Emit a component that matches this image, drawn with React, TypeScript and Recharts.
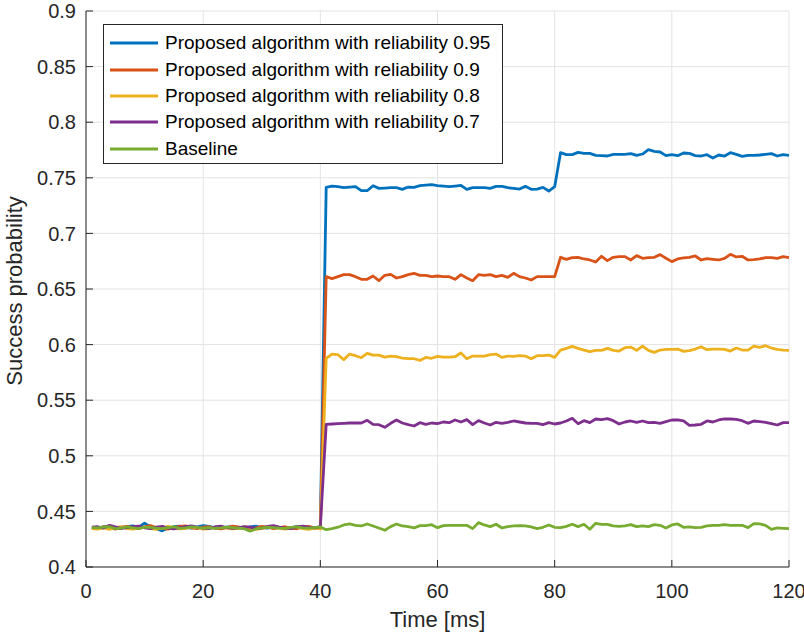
import React from 'react';
import { LineChart, Line, XAxis, YAxis, CartesianGrid, Legend, Label } from 'recharts';

const time: number[] = Array.from({ length: 120 }, (_, i) => i + 1);

const rel95: number[] = [
  0.4355, 0.4352, 0.4360, 0.4365, 0.4350, 0.4348, 0.4362, 0.4370, 0.4358, 0.4395,
  0.4360, 0.4345, 0.4325, 0.4350, 0.4362, 0.4368, 0.4355, 0.4350, 0.4360, 0.4372,
  0.4365, 0.4352, 0.4345, 0.4358, 0.4362, 0.4355, 0.4348, 0.4360, 0.4368, 0.4355,
  0.4350, 0.4362, 0.4357, 0.4345, 0.4352, 0.4365, 0.4360, 0.4348, 0.4350, 0.4358,
  0.7414, 0.7426, 0.7420, 0.7411, 0.7417, 0.7420, 0.7384, 0.7384, 0.7429, 0.7405,
  0.7408, 0.7411, 0.7411, 0.7396, 0.7417, 0.7414, 0.7429, 0.7435, 0.7438, 0.7429,
  0.7426, 0.7420, 0.7426, 0.7432, 0.7396, 0.7411, 0.7411, 0.7411, 0.7405, 0.7423,
  0.7423, 0.7411, 0.7405, 0.7399, 0.7423, 0.7396, 0.7399, 0.7414, 0.7381, 0.7420,
  0.7726, 0.7708, 0.7708, 0.7729, 0.7720, 0.7720, 0.7702, 0.7699, 0.7696, 0.7711,
  0.7711, 0.7711, 0.7717, 0.7702, 0.7714, 0.7753, 0.7738, 0.7732, 0.7699, 0.7708,
  0.7699, 0.7723, 0.7720, 0.7699, 0.7696, 0.7708, 0.7678, 0.7705, 0.7696, 0.7726,
  0.7711, 0.7693, 0.7702, 0.7702, 0.7705, 0.7711, 0.7717, 0.7696, 0.7708, 0.7702,
];

const rel90: number[] = [
  0.4350, 0.4345, 0.4362, 0.4355, 0.4340, 0.4358, 0.4366, 0.4352, 0.4345, 0.4360,
  0.4372, 0.4355, 0.4348, 0.4340, 0.4355, 0.4365, 0.4370, 0.4352, 0.4345, 0.4358,
  0.4362, 0.4350, 0.4342, 0.4355, 0.4368, 0.4360, 0.4348, 0.4340, 0.4352, 0.4365,
  0.4358, 0.4346, 0.4355, 0.4362, 0.4350, 0.4344, 0.4358, 0.4365, 0.4352, 0.4348,
  0.6611, 0.6593, 0.6611, 0.6629, 0.6629, 0.6611, 0.6587, 0.6587, 0.6617, 0.6575,
  0.6623, 0.6632, 0.6599, 0.6611, 0.6629, 0.6641, 0.6623, 0.6623, 0.6611, 0.6617,
  0.6611, 0.6611, 0.6587, 0.6629, 0.6599, 0.6575, 0.6629, 0.6623, 0.6629, 0.6611,
  0.6623, 0.6605, 0.6641, 0.6611, 0.6599, 0.6581, 0.6611, 0.6611, 0.6611, 0.6611,
  0.6785, 0.6767, 0.6782, 0.6785, 0.6770, 0.6761, 0.6743, 0.6794, 0.6755, 0.6785,
  0.6791, 0.6791, 0.6761, 0.6800, 0.6776, 0.6782, 0.6785, 0.6809, 0.6776, 0.6746,
  0.6770, 0.6779, 0.6785, 0.6797, 0.6761, 0.6773, 0.6767, 0.6761, 0.6776, 0.6812,
  0.6788, 0.6794, 0.6761, 0.6764, 0.6770, 0.6782, 0.6782, 0.6776, 0.6791, 0.6782,
];

const rel80: number[] = [
  0.4345, 0.4340, 0.4352, 0.4338, 0.4355, 0.4362, 0.4345, 0.4340, 0.4350, 0.4358,
  0.4345, 0.4338, 0.4352, 0.4365, 0.4350, 0.4342, 0.4348, 0.4360, 0.4355, 0.4340,
  0.4345, 0.4358, 0.4366, 0.4350, 0.4342, 0.4348, 0.4360, 0.4352, 0.4338, 0.4345,
  0.4358, 0.4362, 0.4348, 0.4340, 0.4352, 0.4360, 0.4345, 0.4338, 0.4350, 0.4342,
  0.5877, 0.5915, 0.5909, 0.5865, 0.5915, 0.5900, 0.5882, 0.5921, 0.5906, 0.5906,
  0.5888, 0.5897, 0.5891, 0.5879, 0.5873, 0.5873, 0.5858, 0.5885, 0.5877, 0.5894,
  0.5888, 0.5888, 0.5891, 0.5924, 0.5873, 0.5897, 0.5897, 0.5897, 0.5909, 0.5915,
  0.5885, 0.5897, 0.5894, 0.5900, 0.5897, 0.5873, 0.5900, 0.5900, 0.5906, 0.5885,
  0.5951, 0.5966, 0.5984, 0.5966, 0.5951, 0.5936, 0.5948, 0.5948, 0.5966, 0.5948,
  0.5942, 0.5972, 0.5978, 0.5948, 0.5987, 0.5948, 0.5930, 0.5951, 0.5957, 0.5957,
  0.5960, 0.5939, 0.5945, 0.5960, 0.5981, 0.5954, 0.5960, 0.5960, 0.5957, 0.5942,
  0.5969, 0.5951, 0.5951, 0.5987, 0.5975, 0.5990, 0.5969, 0.5957, 0.5951, 0.5948,
];

const rel70: number[] = [
  0.4358, 0.4362, 0.4350, 0.4375, 0.4360, 0.4348, 0.4355, 0.4362, 0.4368, 0.4352,
  0.4345, 0.4358, 0.4365, 0.4350, 0.4342, 0.4355, 0.4362, 0.4370, 0.4358, 0.4350,
  0.4345, 0.4360, 0.4368, 0.4355, 0.4348, 0.4352, 0.4362, 0.4358, 0.4345, 0.4350,
  0.4365, 0.4372, 0.4358, 0.4350, 0.4345, 0.4360, 0.4368, 0.4358, 0.4352, 0.4362,
  0.5283, 0.5286, 0.5289, 0.5292, 0.5295, 0.5295, 0.5295, 0.5319, 0.5283, 0.5280,
  0.5256, 0.5292, 0.5322, 0.5295, 0.5280, 0.5268, 0.5298, 0.5283, 0.5295, 0.5289,
  0.5304, 0.5298, 0.5322, 0.5304, 0.5325, 0.5280, 0.5316, 0.5295, 0.5277, 0.5301,
  0.5292, 0.5301, 0.5313, 0.5304, 0.5295, 0.5292, 0.5292, 0.5280, 0.5298, 0.5286,
  0.5295, 0.5313, 0.5337, 0.5289, 0.5316, 0.5298, 0.5331, 0.5325, 0.5334, 0.5316,
  0.5286, 0.5304, 0.5313, 0.5301, 0.5313, 0.5298, 0.5301, 0.5292, 0.5307, 0.5322,
  0.5322, 0.5313, 0.5274, 0.5277, 0.5283, 0.5313, 0.5304, 0.5322, 0.5331, 0.5331,
  0.5328, 0.5316, 0.5292, 0.5313, 0.5307, 0.5301, 0.5289, 0.5277, 0.5298, 0.5298,
];

const baseline: number[] = [
  0.4355, 0.4352, 0.4358, 0.4362, 0.4345, 0.4350, 0.4360, 0.4352, 0.4345, 0.4358,
  0.4356, 0.4350, 0.4346, 0.4355, 0.4362, 0.4348, 0.4352, 0.4360, 0.4356, 0.4350,
  0.4355, 0.4348, 0.4352, 0.4358, 0.4354, 0.4350, 0.4345, 0.4322, 0.4342, 0.4352,
  0.4358, 0.4355, 0.4350, 0.4348, 0.4356, 0.4360, 0.4352, 0.4350, 0.4355, 0.4360,
  0.4335, 0.4345, 0.4358, 0.4378, 0.4387, 0.4375, 0.4369, 0.4387, 0.4369, 0.4351,
  0.4330, 0.4363, 0.4387, 0.4369, 0.4363, 0.4351, 0.4372, 0.4372, 0.4381, 0.4354,
  0.4372, 0.4375, 0.4375, 0.4375, 0.4375, 0.4345, 0.4399, 0.4378, 0.4363, 0.4384,
  0.4351, 0.4363, 0.4369, 0.4372, 0.4369, 0.4360, 0.4345, 0.4357, 0.4378, 0.4357,
  0.4354, 0.4366, 0.4384, 0.4363, 0.4384, 0.4339, 0.4393, 0.4384, 0.4384, 0.4369,
  0.4366, 0.4369, 0.4381, 0.4363, 0.4369, 0.4363, 0.4381, 0.4375, 0.4351, 0.4378,
  0.4387, 0.4357, 0.4360, 0.4354, 0.4357, 0.4369, 0.4375, 0.4375, 0.4381, 0.4375,
  0.4375, 0.4375, 0.4354, 0.4390, 0.4387, 0.4375, 0.4339, 0.4351, 0.4348, 0.4345,
];

const xTicks: number[] = [0, 20, 40, 60, 80, 100, 120];
const yTicks: number[] = [0.4, 0.45, 0.5, 0.55, 0.6, 0.65, 0.7, 0.75, 0.8, 0.85, 0.9];

const seriesNames: string[] = [
  'Proposed algorithm with reliability 0.95',
  'Proposed algorithm with reliability 0.9',
  'Proposed algorithm with reliability 0.8',
  'Proposed algorithm with reliability 0.7',
  'Baseline',
];
const seriesColors: string[] = ['#0072BD', '#D95319', '#EDB120', '#7E2F8E', '#77AC30'];
const seriesKeys: string[] = ['r95', 'r90', 'r80', 'r70', 'base'];
const seriesData: number[][] = [rel95, rel90, rel80, rel70, baseline];

const rows = time.map((t, i) => {
  const row: Record<string, number> = { t };
  seriesKeys.forEach((k, j) => {
    row[k] = seriesData[j][i];
  });
  return row;
});

const FONT = '"Liberation Sans", Arial, Helvetica, sans-serif';
const AXIS = '#262626';
const TICK_LEN = 7;

const fmtY = (v: number) => String(Math.round(v * 100) / 100);

const LeftTick = (props: any) => {
  const { x, y, payload } = props;
  const ax = x + 10;
  return (
    <g>
      <line x1={ax} x2={ax + TICK_LEN} y1={y} y2={y} stroke={AXIS} strokeWidth={1} />
      <text x={x} y={y} dy="0.36em" textAnchor="end" fontFamily={FONT} fontSize={20} fill={AXIS}>
        {fmtY(payload.value)}
      </text>
    </g>
  );
};

const RightTick = (props: any) => {
  const { x, y } = props;
  return <line x1={x - TICK_LEN} x2={x} y1={y} y2={y} stroke={AXIS} strokeWidth={1} />;
};

const BottomTick = (props: any) => {
  const { x, y, payload } = props;
  const ay = y - 17;
  return (
    <g>
      <line x1={x} x2={x} y1={ay} y2={ay - TICK_LEN} stroke={AXIS} strokeWidth={1} />
      <text x={x} y={y} dy="0.72em" textAnchor="middle" fontFamily={FONT} fontSize={20} fill={AXIS}>
        {payload.value}
      </text>
    </g>
  );
};

const TopTick = (props: any) => {
  const { x, y } = props;
  return <line x1={x} x2={x} y1={y} y2={y + TICK_LEN} stroke={AXIS} strokeWidth={1} />;
};

const LegendBox = (props: any) => {
  const items = [...(props.payload || [])].sort(
    (a: any, b: any) => seriesNames.indexOf(a.value) - seriesNames.indexOf(b.value)
  );
  return (
    <div
      style={{
        width: 400,
        height: 140,
        boxSizing: 'border-box',
        border: `1px solid ${AXIS}`,
        background: '#fff',
        paddingTop: 5,
        paddingLeft: 6,
        fontFamily: FONT,
        fontSize: 19,
        color: '#000',
      }}
    >
      {items.map((p: any, i: number) => (
        <div key={i} style={{ display: 'flex', alignItems: 'center', height: 26.4, whiteSpace: 'nowrap' }}>
          <svg width={48} height={6} style={{ display: 'block' }}>
            <line x1={0} x2={48} y1={3} y2={3} stroke={p.color} strokeWidth={2.8} />
          </svg>
          <span style={{ marginLeft: 7, lineHeight: '26px' }}>{p.value}</span>
        </div>
      ))}
    </div>
  );
};

export default function App() {
  return (
    <div style={{ position: 'absolute', left: 0, top: 0, background: '#fff' }}>
      <LineChart width={804} height={635} data={rows} margin={{ top: 11, right: 15, bottom: 38, left: 26 }}>
        <CartesianGrid stroke="#e3e3e3" strokeWidth={1} />
        <XAxis
          dataKey="t"
          type="number"
          domain={[0, 120]}
          ticks={xTicks}
          height={30}
          tickSize={0}
          tickMargin={17}
          axisLine={{ stroke: AXIS, strokeWidth: 1 }}
          tickLine={false}
          tick={<BottomTick />}
          interval={0}
        >
          <Label
            content={(p: any) => {
              const vb = p.viewBox || {};
              return (
                <text x={vb.x + vb.width / 2} y={vb.y + 60} textAnchor="middle" fontFamily={FONT} fontSize={22} fill={AXIS}>
                  Time [ms]
                </text>
              );
            }}
          />
        </XAxis>
        <XAxis
          xAxisId="top"
          orientation="top"
          dataKey="t"
          type="number"
          domain={[0, 120]}
          ticks={xTicks}
          height={0}
          tickSize={0}
          tickMargin={0}
          axisLine={{ stroke: AXIS, strokeWidth: 1 }}
          tickLine={false}
          tick={<TopTick />}
          interval={0}
        />
        <YAxis
          type="number"
          domain={[0.4, 0.9]}
          ticks={yTicks}
          width={60}
          tickSize={0}
          tickMargin={10}
          axisLine={{ stroke: AXIS, strokeWidth: 1 }}
          tickLine={false}
          tick={<LeftTick />}
          interval={0}
          allowDataOverflow
        >
          <Label
            content={(p: any) => {
              const vb = p.viewBox || {};
              const cx = vb.x - 4;
              const cy = vb.y + vb.height / 2 + 2;
              return (
                <text
                  x={cx}
                  y={cy}
                  transform={`rotate(-90, ${cx}, ${cy})`}
                  textAnchor="middle"
                  fontFamily={FONT}
                  fontSize={22}
                  fill={AXIS}
                >
                  Success probability
                </text>
              );
            }}
          />
        </YAxis>
        <YAxis
          yAxisId="right"
          orientation="right"
          type="number"
          domain={[0.4, 0.9]}
          ticks={yTicks}
          width={0}
          tickSize={0}
          tickMargin={0}
          axisLine={{ stroke: AXIS, strokeWidth: 1 }}
          tickLine={false}
          tick={<RightTick />}
          interval={0}
        />
        <Legend
          layout="vertical"
          align="center"
          verticalAlign="middle"
          wrapperStyle={{ top: 24, left: 103, width: 400 }}
          content={<LegendBox />}
        />
        {seriesKeys.map((k, j) => (
          <Line
            key={k}
            dataKey={k}
            name={seriesNames[j]}
            stroke={seriesColors[j]}
            strokeWidth={2.8}
            dot={false}
            activeDot={false}
            isAnimationActive={false}
            strokeLinejoin="round"
            type="linear"
          />
        ))}
      </LineChart>
    </div>
  );
}
